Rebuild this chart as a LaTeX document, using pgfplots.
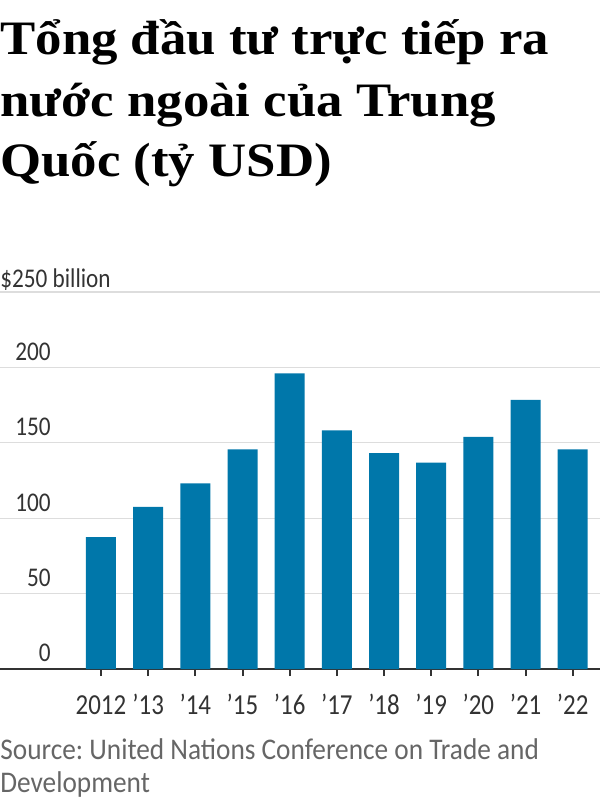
\documentclass[border=0pt]{standalone}
\usepackage{fontspec}
\setmainfont{Liberation Serif}
\newfontfamily\titlefont[FakeStretch=1.1]{Liberation Serif}
\newfontfamily\wsj[FakeStretch=0.86]{Carlito}
\newfontfamily\wsjsrc[FakeStretch=0.91]{Carlito}
\usepackage{pgfplots}
\pgfplotsset{compat=1.18}
\definecolor{barblue}{HTML}{0077AA}
\definecolor{axisdark}{HTML}{333333}
\definecolor{gridgray}{HTML}{DDDDDD}
\definecolor{srcgray}{HTML}{666666}
\frenchspacing
\begin{document}
\begin{tikzpicture}[x=1pt,y=1pt]
\useasboundingbox (0pt,0pt) rectangle (300pt,400pt);
\node[anchor=base west, inner sep=0pt, font=\titlefont\bfseries\fontsize{24}{30}\selectfont] at (0pt,372.5pt) {Tổng đầu tư trực tiếp ra};
\node[anchor=base west, inner sep=0pt, font=\titlefont\bfseries\fontsize{24}{30}\selectfont] at (0pt,341.7pt) {nước ngoài của Trung};
\node[anchor=base west, inner sep=0pt, font=\titlefont\bfseries\fontsize{24}{30}\selectfont] at (0pt,311.7pt) {Quốc (tỷ USD)};
\node[anchor=base west, inner sep=0pt, font=\wsjsrc\fontsize{15}{18}\selectfont, text=srcgray] at (0pt,20pt) {Source: United Nations Conference on Trade and};
\node[anchor=base west, inner sep=0pt, font=\wsjsrc\fontsize{15}{18}\selectfont, text=srcgray] at (0pt,3.65pt) {Development};
\begin{axis}[
 at={(0pt,65.5pt)}, anchor=south west, scale only axis, width=300pt, height=188.5pt,
 xmin=-2.141, xmax=10.579, ymin=0, ymax=250,
 axis x line*=bottom, axis y line*=left,
 y axis line style={draw=none},
 x axis line style={draw=axisdark, line width=1pt},
 xtick={0,...,10},
 xticklabels={2012,’13,’14,’15,’16,’17,’18,’19,’20,’21,’22},
 ytick={0,50,...,250}, yticklabels={0,50,100,150,200,},
 ymajorgrids, grid style={draw=gridgray, line width=0.6pt},
 tick align=outside, ytick style={draw=none},
 xtick style={draw=axisdark, line width=1pt}, major tick length=3.5pt,
 xticklabel style={anchor=base, inner sep=0pt, yshift=-19.2pt, font=\wsj\fontsize{14.5}{17}\selectfont, text=axisdark},
 yticklabel style={anchor=base east, inner sep=0pt, xshift=29pt, yshift=3.5pt, font=\wsj\fontsize{13.5}{16}\selectfont, text=axisdark},
 clip=false,
]
\addplot[ybar, bar width=15pt, fill=barblue, draw=none] coordinates {
 (0,87.4) (1,107.5) (2,123.1) (3,145.7) (4,196.0) (5,158.3) (6,143.2) (7,136.9) (8,153.9) (9,178.5) (10,145.7)};
\node[anchor=base west, inner sep=0pt, font=\wsj\fontsize{13.5}{16}\selectfont, text=axisdark] at (axis cs:-2.141,250) [yshift=2.5pt] {\$250 billion};
\end{axis}
\end{tikzpicture}
\end{document}
